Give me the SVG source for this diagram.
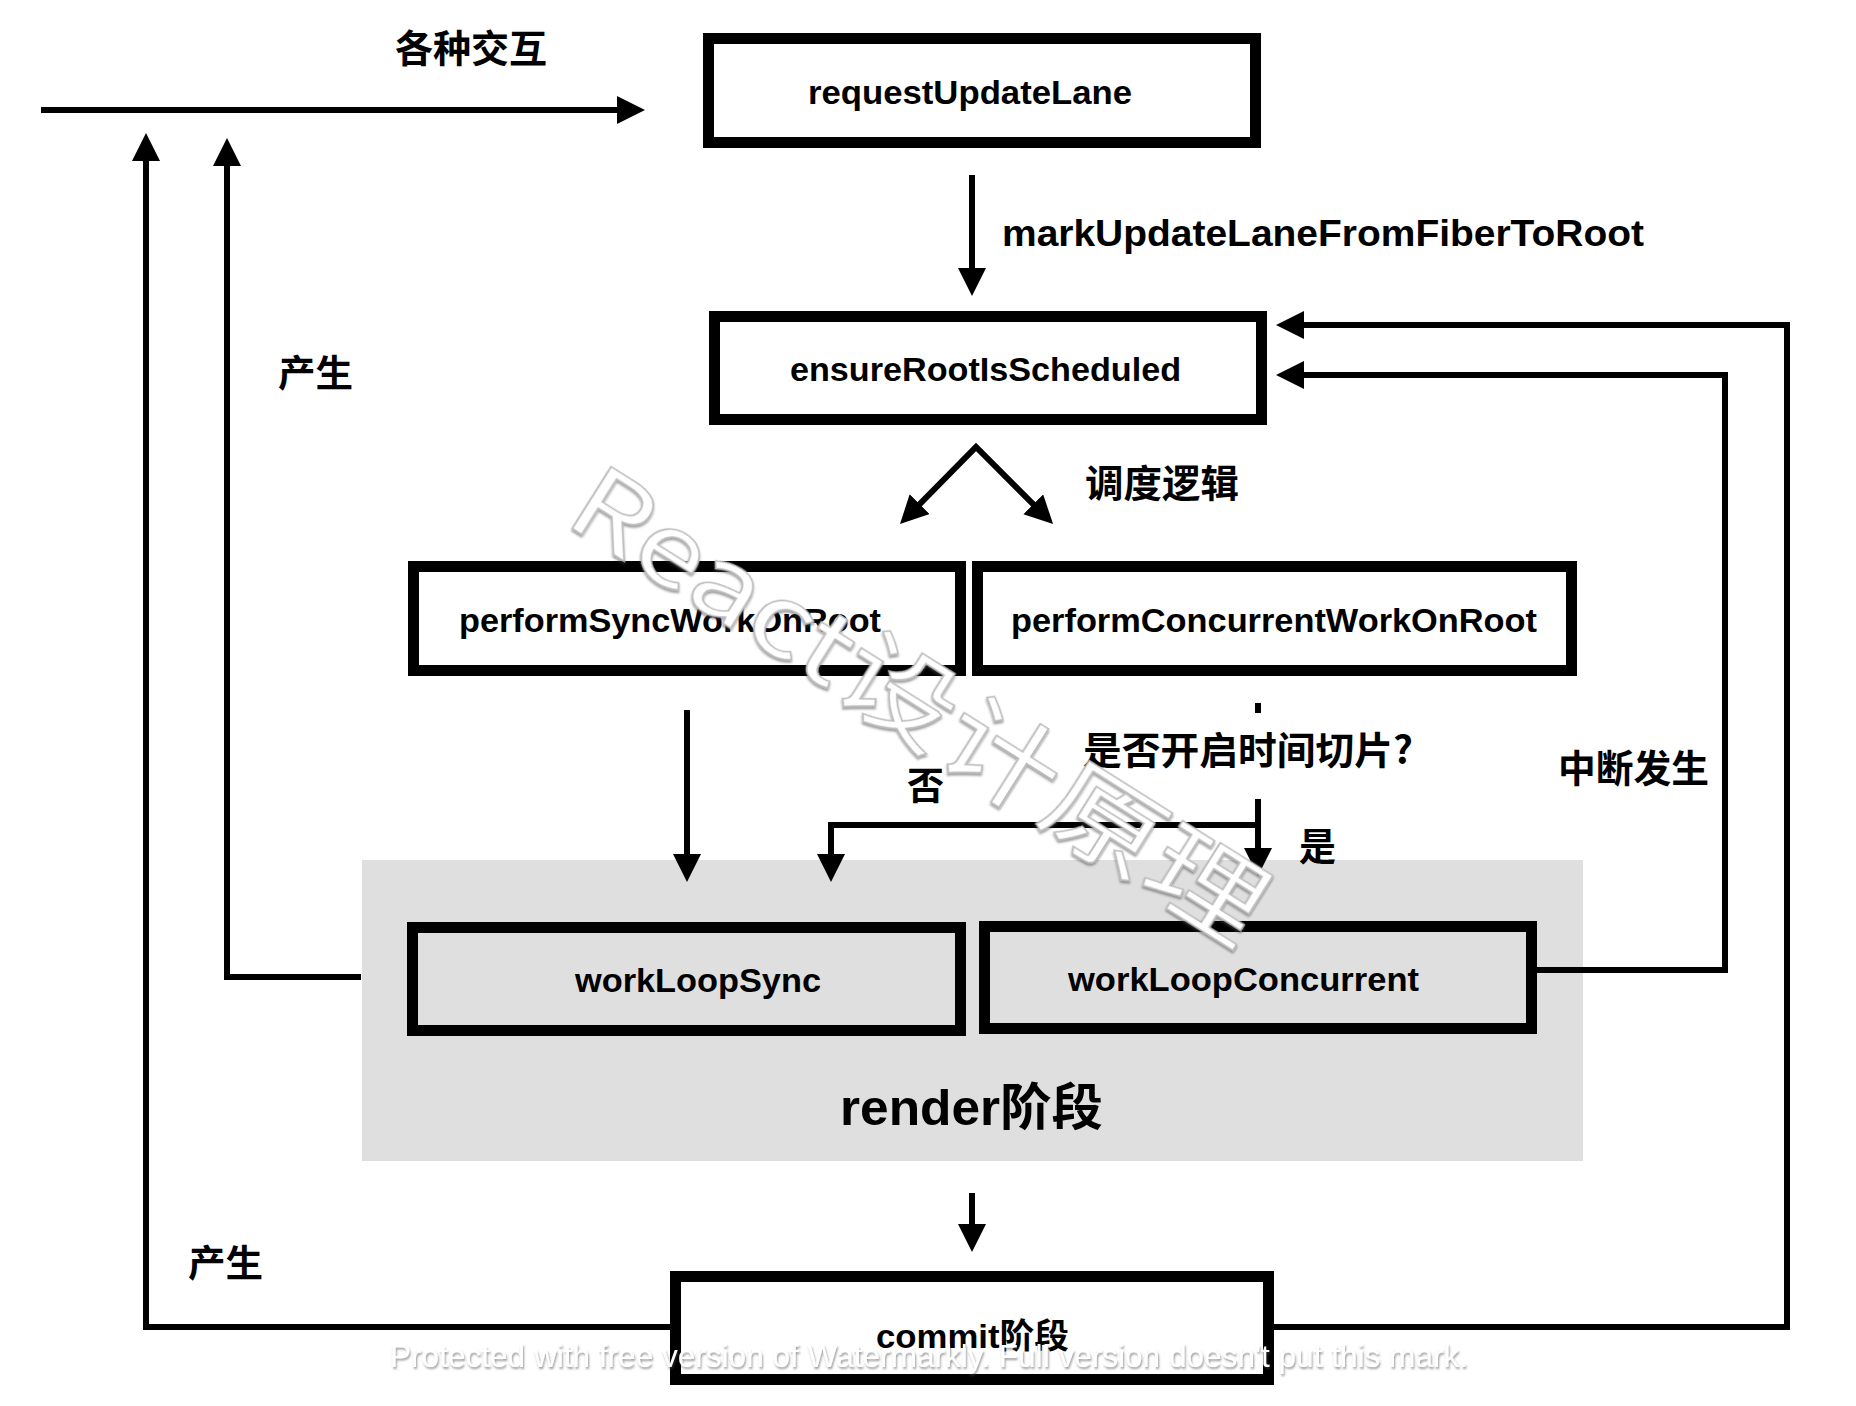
<svg xmlns="http://www.w3.org/2000/svg" width="1856" height="1406" viewBox="0 0 1856 1406">
<style>
.box{fill:#fff;stroke:#000;stroke-width:11}
.boxg{fill:none;stroke:#000;stroke-width:11}
.lbl{font-family:'Liberation Sans',Arial,'Noto Sans CJK SC',sans-serif;font-weight:bold;fill:#000}
.cjk{font-family:'Noto Sans CJK SC','Liberation Sans',sans-serif;font-weight:bold;fill:#000}
.ln{fill:none;stroke:#000;stroke-width:6;stroke-linejoin:miter}
.arr{marker-end:url(#ah)}
.wm{font-family:'Noto Sans CJK SC','Liberation Sans',sans-serif;fill:#fff;stroke:#bdbdbd;stroke-width:1.5}
</style>
<defs>
<marker id="ah" markerUnits="userSpaceOnUse" markerWidth="30" markerHeight="30" viewBox="0 0 30 30" refX="18" refY="14" orient="auto-start-reverse"><path d="M0,0 L28,14 L0,28 z" fill="#000"/></marker>
<filter id="sh" x="-5%" y="-30%" width="110%" height="160%"><feDropShadow dx="1" dy="2" stdDeviation="1.2" flood-color="#444" flood-opacity="0.55"/></filter>
</defs>
<rect width="1856" height="1406" fill="#fff"/>
<g id="render-phase">
<rect x="362" y="860" width="1221" height="301" fill="#dfdfdf"/>
<text class="lbl" x="840" y="1125" font-size="50" textLength="263" lengthAdjust="spacingAndGlyphs">render阶段</text>
</g>
<g id="connectors">
<path class="ln arr" d="M41,110 H635"/>
<path class="ln arr" d="M972,175 V286"/>
<path class="ln arr" d="M907,517 L976,447 L1046,517" marker-start="url(#ah)"/>
<path class="ln arr" d="M687,710 V872"/>
<path class="ln" d="M1258,703 V713"/>
<path class="ln arr" d="M1258,799 V866"/>
<path class="ln arr" d="M1261,825 H831 V872"/>
<path class="ln arr" d="M972,1193 V1242"/>
<path class="ln arr" d="M361,977 H227 V148"/>
<path class="ln arr" d="M670,1327 H146 V143"/>
<path class="ln arr" d="M1537,970 H1725 V375 H1286"/>
<path class="ln arr" d="M1274,1327 H1787 V325 H1286"/>
</g>
<g id="requestUpdateLane">
<rect class="box" x="708.5" y="38.5" width="547" height="104"/>
<text class="lbl" x="808" y="104" font-size="33" textLength="324" lengthAdjust="spacingAndGlyphs">requestUpdateLane</text>
</g>
<g id="ensureRootIsScheduled">
<rect class="box" x="714.5" y="316.5" width="547" height="103"/>
<text class="lbl" x="790" y="381" font-size="33" textLength="391" lengthAdjust="spacingAndGlyphs">ensureRootIsScheduled</text>
</g>
<g id="performSyncWorkOnRoot">
<rect class="box" x="413.5" y="566.5" width="547" height="104"/>
<text class="lbl" x="459" y="632" font-size="33" textLength="422" lengthAdjust="spacingAndGlyphs">performSyncWorkOnRoot</text>
</g>
<g id="performConcurrentWorkOnRoot">
<rect class="box" x="977.5" y="566.5" width="594" height="104"/>
<text class="lbl" x="1011" y="632" font-size="33" textLength="526" lengthAdjust="spacingAndGlyphs">performConcurrentWorkOnRoot</text>
</g>
<g id="workLoopSync">
<rect class="boxg" x="412.5" y="927.5" width="548" height="103"/>
<text class="lbl" x="575" y="992" font-size="33" textLength="246" lengthAdjust="spacingAndGlyphs">workLoopSync</text>
</g>
<g id="workLoopConcurrent">
<rect class="boxg" x="984.5" y="926.5" width="547" height="102"/>
<text class="lbl" x="1068" y="991" font-size="33" textLength="351" lengthAdjust="spacingAndGlyphs">workLoopConcurrent</text>
</g>
<g id="commit">
<rect class="box" x="675.5" y="1276.5" width="593" height="103"/>
<text class="lbl" x="876" y="1348" font-size="34" textLength="193" lengthAdjust="spacingAndGlyphs">commit阶段</text>
</g>
<g id="labels">
<text class="cjk" x="395" y="62" font-size="38" textLength="152" lengthAdjust="spacingAndGlyphs">各种交互</text>
<text class="lbl" x="1002" y="246" font-size="37" textLength="642" lengthAdjust="spacingAndGlyphs">markUpdateLaneFromFiberToRoot</text>
<text class="cjk" x="278" y="387" font-size="37" textLength="75" lengthAdjust="spacingAndGlyphs">产生</text>
<text class="cjk" x="1085" y="497" font-size="38" textLength="154" lengthAdjust="spacingAndGlyphs">调度逻辑</text>
<text class="cjk" x="1083" y="764" font-size="38" textLength="330" lengthAdjust="spacingAndGlyphs">是否开启时间切片?</text>
<text class="cjk" x="907" y="799" font-size="38" textLength="37" lengthAdjust="spacingAndGlyphs">否</text>
<text class="cjk" x="1299" y="860" font-size="38" textLength="37" lengthAdjust="spacingAndGlyphs">是</text>
<text class="cjk" x="1558" y="782" font-size="38" textLength="151" lengthAdjust="spacingAndGlyphs">中断发生</text>
<text class="cjk" x="188" y="1277" font-size="37" textLength="75" lengthAdjust="spacingAndGlyphs">产生</text>
</g>
<g id="watermarks">
<text class="wm" transform="translate(562,522) rotate(32.2)" font-size="100" textLength="800" lengthAdjust="spacingAndGlyphs" filter="url(#sh)">React设计原理</text>
<text x="390" y="1367" font-family="'Liberation Sans',Arial,sans-serif" font-size="32" fill="#fff" textLength="1078" lengthAdjust="spacingAndGlyphs" filter="url(#sh)">Protected with free version of Watermarkly. Full version doesn't put this mark.</text>
</g>
</svg>
